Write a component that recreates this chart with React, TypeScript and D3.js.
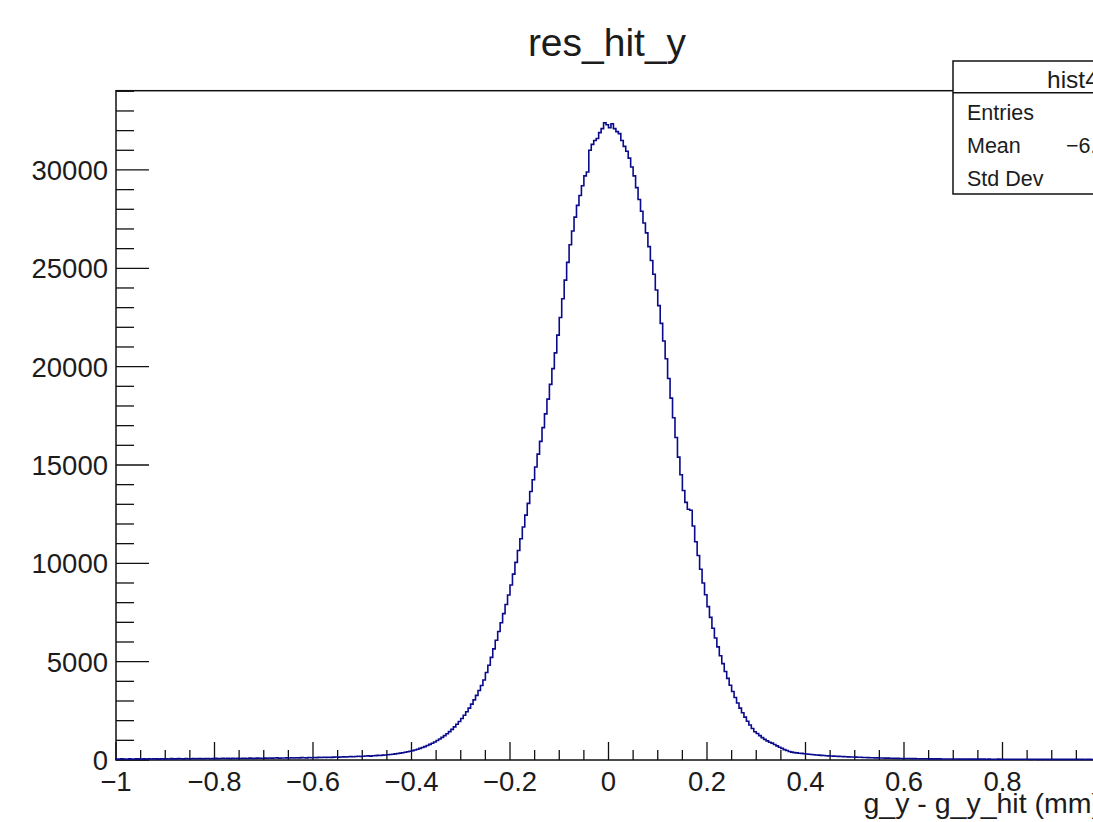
import React from "react";
import * as d3 from "d3";

// ---- data ----
const binLow = -1.0;
const binHigh = 1.0;
const counts: number[] = [
  // -1.000 .. -0.955
  52, 45, 61, 48, 39, 57, 50, 44, 63, 55,
  47, 58, 53, 66, 49, 60, 55, 42, 64, 57,
  // -0.900 ..
  62, 51, 68, 59, 55, 71, 63, 58, 74, 60,
  66, 72, 61, 78, 69, 64, 80, 73, 67, 75,
  // -0.800 ..
  82, 70, 77, 86, 74, 81, 69, 88, 79, 84,
  76, 90, 83, 79, 94, 85, 81, 97, 88, 92,
  // -0.700 ..
  95, 87, 101, 93, 99, 106, 91, 103, 98, 110,
  104, 112, 99, 116, 108, 121, 113, 106, 124, 118,
  // -0.600 ..
  127, 120, 133, 125, 138, 131, 142, 136, 147, 151,
  145, 156, 161, 153, 168, 174, 166, 181, 188, 179,
  // -0.500 ..
  194, 201, 209, 198, 216, 225, 233, 228, 247, 256,
  268, 281, 296, 310, 327, 348, 369, 392, 418, 446,
  // -0.400 ..
  478, 512, 548, 590, 634, 682, 735, 792, 852, 918,
  990, 1068, 1150, 1240, 1338, 1444, 1558, 1682, 1814, 1956,
  // -0.300 ..
  2110, 2275, 2450, 2640, 2840, 3055, 3285, 3530, 3790, 4070,
  4450, 4820, 5220, 5650, 6090, 6530, 6980, 7440, 7910, 8390,
  // -0.200 ..
  8900, 9450, 10050, 10650, 11250, 11850, 12450, 13050, 13650, 14250,
  14900, 15550, 16200, 16900, 17600, 18350, 19100, 19900, 20700, 21600,
  // -0.100 ..
  22500, 23450, 24400, 25300, 26200, 26900, 27600, 28200, 28700, 29200,
  29700, 29900, 31000, 31300, 31500, 31600, 31900, 32100, 32400, 32300,
  // 0.000 ..
  32150, 32350, 32100, 31950, 31850, 31500, 31200, 30950, 30600, 30150,
  29700, 29100, 28500, 27900, 27300, 26800, 26100, 25400, 24700, 23900,
  // 0.100 ..
  23100, 22200, 21300, 20400, 19400, 18400, 17400, 16400, 15400, 14500,
  13700, 13100, 12750, 12700, 11900, 11100, 10400, 9700, 9000, 8400,
  // 0.200 ..
  7800, 7250, 6700, 6200, 5750, 5300, 4900, 4500, 4150, 3800,
  3480, 3180, 2900, 2640, 2400, 2180, 1970, 1780, 1600, 1440,
  // 0.300 ..
  1350, 1240, 1140, 1050, 970, 900, 860, 790, 720, 650,
  590, 530, 480, 430, 400, 375, 360, 345, 335, 320,
  // 0.400 ..
  305, 292, 280, 268, 255, 246, 236, 228, 219, 212,
  205, 198, 190, 184, 178, 172, 166, 160, 155, 150,
  // 0.500 ..
  146, 141, 137, 130, 127, 121, 118, 114, 109, 106,
  103, 99, 97, 93, 91, 88, 85, 84, 80, 79,
  // 0.600 ..
  77, 74, 73, 70, 69, 67, 66, 63, 62, 61,
  59, 58, 57, 55, 56, 53, 52, 54, 50, 51,
  // 0.700 ..
  49, 50, 47, 48, 46, 47, 44, 45, 46, 43,
  44, 42, 43, 41, 42, 40, 41, 39, 42, 38,
  // 0.800 ..
  40, 38, 39, 37, 40, 36, 38, 37, 35, 38,
  36, 34, 37, 35, 33, 36, 34, 35, 32, 34,
  // 0.900 ..
  33, 35, 32, 34, 31, 33, 32, 30, 33, 31,
  32, 30, 31, 29, 32, 30, 28, 31, 29, 30,
];
const yMax = 34030;
const xMajorTicks = [-1, -0.8, -0.6, -0.4, -0.2, 0, 0.2, 0.4, 0.6, 0.8, 1];
const xTickLabels = ["\u22121", "\u22120.8", "\u22120.6", "\u22120.4", "\u22120.2", "0", "0.2", "0.4", "0.6", "0.8", ""];
const yMajorTicks = [0, 5000, 10000, 15000, 20000, 25000, 30000];
const yTickLabels = ["0", "5000", "10000", "15000", "20000", "25000", "30000"];
const chartTitle = "res_hit_y";
const xAxisTitle = "g_y - g_y_hit (mm)";
const statsTitle = "hist4";
const statsNames = ["Entries", "Mean", "Std Dev"];
const statsValues = ["1000000", "\u22126.3e\u221205", "0.1283"];

export default function App() {
  if (typeof document !== "undefined") document.body.style.margin = "0";
  const W = 1093;
  const H = 822;
  const left = 116;
  const right = 1101;
  const top = 90.7;
  const bottom = 760;
  const font = "'Liberation Sans', Arial, Helvetica, sans-serif";
  const textColor = "#1c1c1c";

  const x = d3.scaleLinear().domain([binLow, binHigh]).range([left, right]);
  const y = d3.scaleLinear().domain([0, yMax]).range([bottom, top]);

  const n = counts.length;
  const bw = (binHigh - binLow) / n;
  const pts: [number, number][] = [[binLow, 0]];
  counts.forEach((c, i) => pts.push([binLow + i * bw, c]));
  pts.push([binHigh, counts[n - 1]]);
  pts.push([binHigh, 0]);
  const line = d3
    .line<[number, number]>()
    .x((d) => x(d[0]))
    .y((d) => y(d[1]))
    .curve(d3.curveStepAfter);

  const xMinor = d3.range(-1, 1.0001, 0.05).filter((v) => Math.abs(Math.round(v * 5) - v * 5) > 1e-6);
  const yMinor = d3.range(0, yMax, 1000).filter((v) => v % 5000 !== 0);

  const boxX = 953;
  const boxY = 61;
  const boxW = 240;
  const boxH = 133;

  return (
    <svg width={W} height={H} style={{ display: "block", background: "#fff" }} fontFamily={font}>
      <rect x={0} y={0} width={W} height={H} fill="#fff" />
      {/* title */}
      <text x={607} y={56} textAnchor="middle" fontSize={39} fill={textColor}>
        {chartTitle}
      </text>
      {/* frame */}
      <rect x={left} y={top} width={right - left} height={bottom - top} fill="none" stroke="#111" strokeWidth={1.5} />
      {/* x ticks */}
      {xMajorTicks.map((t) => (
        <line key={"xM" + t} x1={x(t)} x2={x(t)} y1={bottom} y2={bottom - 18} stroke="#111" strokeWidth={1.3} />
      ))}
      {xMinor.map((t) => (
        <line key={"xm" + t} x1={x(t)} x2={x(t)} y1={bottom} y2={bottom - 10} stroke="#111" strokeWidth={1.3} />
      ))}
      {xMajorTicks.map((t, i) =>
        xTickLabels[i] ? (
          <text key={"xl" + t} x={x(t)} y={791} textAnchor="middle" fontSize={27.5} fill={textColor}>
            {xTickLabels[i]}
          </text>
        ) : null
      )}
      {/* y ticks */}
      {yMajorTicks.map((t) => (
        <line key={"yM" + t} x1={left} x2={left + 33} y1={y(t)} y2={y(t)} stroke="#111" strokeWidth={1.3} />
      ))}
      {yMinor.map((t) => (
        <line key={"ym" + t} x1={left} x2={left + 18} y1={y(t)} y2={y(t)} stroke="#111" strokeWidth={1.3} />
      ))}
      {yMajorTicks.map((t, i) => (
        <text key={"yl" + t} x={108} y={y(t) + 10} textAnchor="end" fontSize={27.5} fill={textColor}>
          {yTickLabels[i]}
        </text>
      ))}
      {/* histogram */}
      <path d={line(pts) || ""} fill="none" stroke="#0a0a8c" strokeWidth={1.6} />
      {/* x axis title */}
      <text x={right} y={813} textAnchor="end" fontSize={28.5} fill={textColor}>
        {xAxisTitle}
      </text>
      {/* stats box */}
      <rect x={boxX} y={boxY} width={boxW} height={boxH} fill="#fff" stroke="#111" strokeWidth={1.5} />
      <line x1={boxX} x2={boxX + boxW} y1={92.7} y2={92.7} stroke="#111" strokeWidth={1.5} />
      <text x={1047} y={88} fontSize={24.5} fill={textColor}>
        {statsTitle}
      </text>
      {statsNames.map((s, i) => (
        <text key={s} x={967} y={120 + i * 33} fontSize={21.5} fill={textColor}>
          {s}
        </text>
      ))}
      {statsValues.map((s, i) => (
        <text key={"v" + i} x={i === 1 ? 1066 : 1110} y={120 + i * 33} fontSize={21.5} fill={textColor}>
          {s}
        </text>
      ))}
    </svg>
  );
}
